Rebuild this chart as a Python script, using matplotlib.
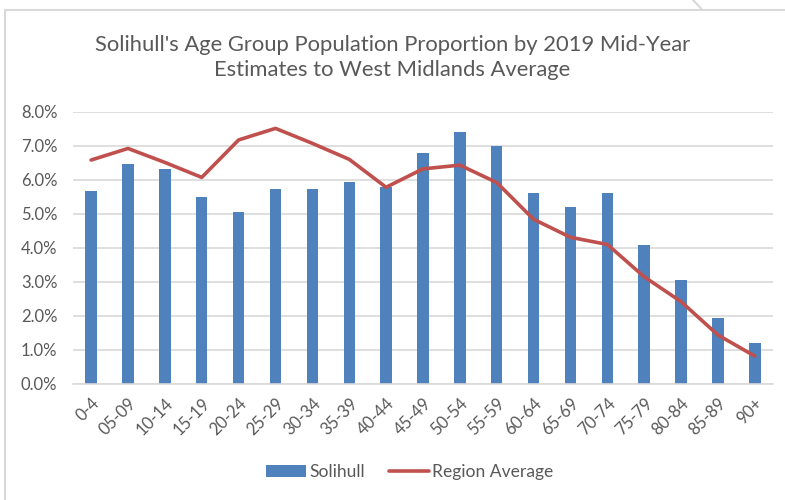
import numpy as np
import matplotlib
matplotlib.use("Agg")
from matplotlib import pyplot as plt
from matplotlib.ticker import PercentFormatter
from matplotlib.lines import Line2D
from matplotlib.patches import Rectangle

plt.rcParams['font.family'] = ['Lato', 'DejaVu Sans']

age_groups = ['0-4', '05-09', '10-14', '15-19', '20-24', '25-29', '30-34',
              '35-39', '40-44', '45-49', '50-54', '55-59', '60-64', '65-69',
              '70-74', '75-79', '80-84', '85-89', '90+']
solihull = [5.67, 6.46, 6.32, 5.50, 5.06, 5.73, 5.73, 5.94, 5.80, 6.79,
            7.39, 6.99, 5.61, 5.21, 5.61, 4.07, 3.05, 1.94, 1.20]
region_avg = [6.58, 6.92, 6.51, 6.07, 7.17, 7.51, 7.07, 6.60, 5.78, 6.32,
              6.43, 5.92, 4.84, 4.31, 4.10, 3.15, 2.42, 1.44, 0.82]
y_ticks = [0, 1, 2, 3, 4, 5, 6, 7, 8]

text_col = '#595959'
grid_col = '#D9D9D9'

fig = plt.figure(figsize=(7.85, 5), dpi=100)
ax = fig.add_axes([0.0926, 0.232, 0.8924, 0.5446])

x = np.arange(len(age_groups))
bars = ax.bar(x, solihull, width=0.31, color='#4F81BD', label='Solihull', zorder=2)
line, = ax.plot(x, region_avg, color='#C0504D', lw=2.6, label='Region Average',
                solid_capstyle='round', zorder=3)

ax.set_xlim(-0.5, len(age_groups) - 0.5)
ax.set_ylim(0, 8)
ax.set_yticks(y_ticks)
ax.yaxis.set_major_formatter(PercentFormatter(decimals=1))
ax.set_xticks(x)
ax.set_xticklabels(age_groups, rotation=45, ha='right', rotation_mode='anchor')
ax.tick_params(axis='both', length=0, labelsize=12, labelcolor=text_col)
ax.tick_params(axis='y', pad=11)
ax.tick_params(axis='x', pad=8)
ax.grid(axis='y', color=grid_col, lw=1.2, zorder=0)
for s in ['top', 'right', 'left']:
    ax.spines[s].set_visible(False)
ax.spines['bottom'].set_color(grid_col)
ax.spines['bottom'].set_linewidth(1.2)

fig.text(0.5, 0.885, "Solihull's Age Group Population Proportion by 2019 Mid-Year\n"
         "Estimates to West Midlands Average", ha='center', va='center',
         fontsize=15.8, color=text_col, linespacing=1.35)

fig.legend([bars, line], ['Solihull', 'Region Average'], loc='center',
           bbox_to_anchor=(0.522, 0.056), ncol=2, frameon=False,
           fontsize=12.6, labelcolor=text_col, handlelength=2.3,
           handletextpad=0.15, columnspacing=1.4)

# chart frame as in the screenshot
fig.patches.append(Rectangle((5 / 785, -0.1), 1.2, (500 - 9.5) / 500 + 0.1,
                             transform=fig.transFigure, fill=False,
                             ec=grid_col, lw=1.5))
fig.lines.append(Line2D([693 / 785, 702 / 785], [1.0, (500 - 9.5) / 500],
                        transform=fig.transFigure, color=grid_col, lw=1.5))

fig.savefig('out.png', dpi=100)
